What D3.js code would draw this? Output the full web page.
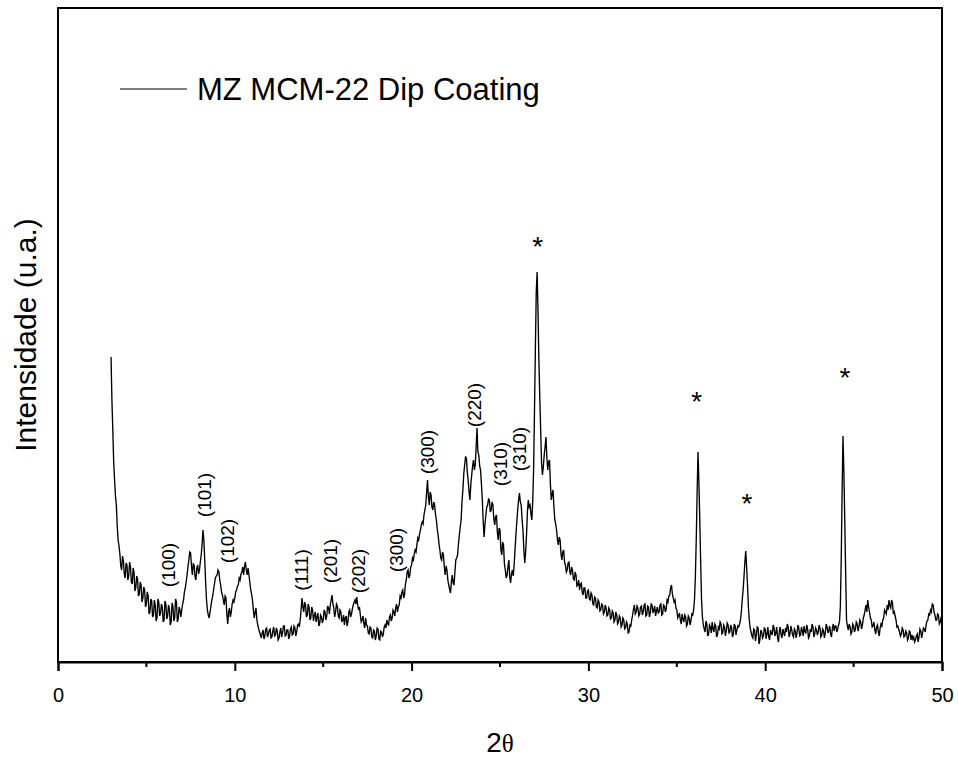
<!DOCTYPE html>
<html>
<head>
<meta charset="utf-8">
<script src="https://cdn.jsdelivr.net/npm/d3@7"></script>
<style>
  html, body { margin: 0; padding: 0; background: #fff; }
  svg { display: block; }
  text { font-family: "Liberation Sans", Arial, sans-serif; fill: #000; }
</style>
</head>
<body>
<div id="chart"></div>
<script>
// ---- Data (XRD pattern, 2θ from 3.00° to 50.00° in 0.05° steps; intensity in arbitrary units) ----
const thetaStart = 3.0;
const thetaStep = 0.05;
const intensity = [
  305, 262, 232, 200, 182, 166, 157, 136, 122, 116, 108, 96, 92, 106, 101, 88, 84, 99, 97, 82,            // 3
  86, 100, 95, 80, 78, 94, 90, 71, 74, 86, 83, 66, 68, 80, 77, 60, 64, 75, 72, 55,                         // 4
  58, 70, 66, 48, 50, 63, 61, 45, 47, 62, 57, 41, 44, 63, 60, 46, 49, 58, 55, 40,                          // 5
  42, 61, 58, 43, 46, 57, 53, 37, 40, 59, 56, 41, 44, 63, 60, 40, 43, 55, 52, 45,                          // 6
  52, 58, 62, 70, 74, 80, 87, 95, 102, 110, 109, 96, 87, 98, 97, 85, 82, 94, 97, 88,                       // 7
  92, 100, 107, 118, 132, 122, 102, 80, 62, 52, 47, 44, 50, 56, 62, 66, 72, 78, 84, 86,                    // 8
  87, 92, 90, 82, 77, 70, 67, 62, 57, 66, 64, 48, 38, 50, 54, 45, 50, 58, 62, 60,                          // 9
  64, 70, 72, 76, 77, 84, 82, 88, 90, 95, 87, 96, 100, 92, 87, 94, 87, 80, 72, 68,                         // 10
  62, 52, 44, 50, 54, 42, 37, 33, 30, 27, 24, 29, 32, 23, 26, 33, 34, 25, 28, 32,                          // 11
  33, 24, 25, 31, 35, 26, 27, 34, 31, 22, 24, 30, 34, 25, 29, 36, 36, 26, 27, 32,                          // 12
  32, 23, 26, 33, 35, 27, 28, 36, 34, 26, 30, 37, 38, 35, 42, 52, 64, 55, 50, 60,                          // 13
  57, 45, 47, 58, 55, 42, 44, 55, 52, 41, 46, 50, 40, 45, 49, 36, 38, 47, 45, 39,                          // 14
  42, 52, 50, 42, 46, 56, 54, 48, 57, 62, 67, 58, 54, 45, 50, 58, 56, 46, 44, 52,                          // 15
  50, 40, 42, 47, 37, 44, 46, 36, 40, 50, 52, 45, 48, 53, 57, 60, 62, 58, 65, 57,                          // 16
  52, 55, 47, 40, 42, 46, 38, 34, 44, 37, 36, 29, 28, 35, 34, 25, 24, 32, 31, 22,                          // 17
  26, 34, 33, 23, 22, 31, 30, 25, 28, 35, 37, 34, 42, 38, 37, 45, 47, 41, 44, 52,                          // 18
  50, 46, 54, 58, 50, 55, 57, 66, 64, 70, 72, 64, 67, 78, 82, 90, 92, 84, 87, 95,                          // 19
  97, 104, 102, 108, 112, 110, 117, 124, 122, 128, 132, 137, 140, 138, 147, 152, 157, 170, 182, 165,       // 20
  157, 170, 167, 155, 152, 160, 157, 148, 142, 133, 127, 118, 112, 104, 102, 110, 107, 95, 87, 96,         // 21
  92, 82, 77, 73, 69, 80, 87, 79, 77, 90, 102, 104, 107, 118, 127, 135, 142, 160, 172, 188,                // 22
  197, 205, 204, 190, 182, 170, 162, 178, 187, 196, 202, 192, 197, 215, 234, 210, 207, 196, 192, 178,      // 23
  162, 140, 125, 138, 147, 155, 157, 163, 162, 150, 152, 160, 157, 143, 137, 145, 147, 130, 122, 134,      // 24
  132, 112, 107, 120, 117, 98, 92, 84, 87, 95, 102, 85, 79, 88, 92, 86, 97, 112, 127, 140,                 // 25
  152, 162, 169, 160, 157, 142, 132, 112, 99, 110, 127, 150, 162, 155, 157, 148, 142, 160, 192, 250,       // 26
  312, 370, 390, 350, 302, 265, 232, 200, 187, 195, 207, 215, 225, 205, 192, 200, 202, 178, 162, 168,      // 27
  172, 155, 142, 138, 132, 122, 117, 125, 122, 108, 102, 110, 112, 100, 97, 90, 92, 99, 100, 90,           // 28
  87, 95, 92, 83, 82, 90, 87, 76, 77, 82, 72, 78, 79, 70, 67, 74, 74, 64, 64, 71,                          // 29
  72, 63, 62, 69, 67, 58, 57, 65, 64, 55, 54, 62, 60, 51, 52, 58, 57, 48, 50, 57,                          // 30
  54, 46, 47, 54, 52, 43, 44, 51, 49, 40, 42, 50, 47, 38, 40, 46, 44, 35, 37, 44,                          // 31
  42, 33, 34, 40, 38, 29, 30, 37, 36, 42, 47, 53, 57, 48, 50, 56, 54, 46, 48, 55,                          // 32
  56, 47, 50, 57, 58, 46, 47, 56, 55, 45, 49, 58, 57, 49, 52, 56, 46, 51, 55, 49,                          // 33
  50, 57, 58, 47, 48, 57, 56, 50, 53, 62, 60, 66, 67, 74, 77, 68, 64, 60, 62, 54,                          // 34
  52, 44, 46, 49, 42, 38, 48, 43, 40, 47, 45, 36, 38, 46, 44, 37, 41, 48, 47, 52,                          // 35
  62, 85, 122, 170, 210, 180, 142, 100, 62, 45, 37, 33, 30, 41, 38, 26, 28, 37, 35, 29,                    // 36
  40, 33, 30, 38, 36, 25, 27, 35, 33, 40, 38, 28, 29, 37, 35, 26, 31, 39, 37, 29,                          // 37
  30, 37, 34, 25, 28, 38, 36, 27, 32, 36, 35, 38, 42, 50, 62, 72, 85, 100, 111, 95,                        // 38
  77, 55, 42, 34, 30, 26, 24, 33, 32, 21, 27, 35, 34, 18, 22, 32, 30, 24, 26, 34,                          // 39
  33, 23, 28, 35, 25, 22, 32, 29, 27, 37, 34, 26, 29, 35, 24, 20, 31, 35, 27, 24,                          // 40
  33, 29, 26, 34, 30, 38, 35, 25, 28, 36, 32, 27, 25, 33, 31, 24, 29, 37, 34, 26,                          // 41
  27, 35, 31, 26, 36, 30, 29, 37, 33, 24, 26, 33, 30, 38, 35, 25, 28, 34, 32, 27,                          // 42
  30, 37, 34, 25, 27, 33, 31, 24, 29, 38, 35, 29, 32, 36, 28, 25, 34, 38, 31, 36,                          // 43
  36, 30, 33, 37, 40, 55, 102, 170, 226, 190, 142, 90, 42, 36, 32, 38, 35, 28, 30, 38,                     // 44
  36, 30, 33, 40, 38, 31, 35, 42, 40, 33, 37, 44, 47, 52, 57, 50, 62, 55, 50, 44,                          // 45
  42, 35, 36, 40, 32, 28, 35, 37, 30, 26, 34, 38, 36, 42, 44, 52, 50, 48, 57, 52,                          // 46
  62, 56, 54, 62, 59, 48, 50, 46, 42, 35, 36, 33, 30, 26, 28, 34, 32, 25, 26, 31,                          // 47
  29, 22, 24, 31, 30, 22, 27, 23, 25, 20, 22, 26, 28, 20, 25, 33, 31, 24, 29, 34,                          // 48
  33, 30, 37, 41, 42, 48, 47, 52, 50, 58, 57, 50, 47, 42, 42, 48, 47, 38, 40, 44,                          // 49
  42                                                                                                       // 50
];

const xTicks = [0, 10, 20, 30, 40, 50];
const xMinorTicks = [5, 15, 25, 35, 45];

const peakLabels = ["(100)", "(101)", "(102)", "(111)", "(201)", "(202)", "(300)", "(300)", "(220)", "(310)", "(310)"];
const peakLabelTheta = [6.3, 8.3, 9.6, 13.8, 15.45, 17.0, 19.2, 20.95, 23.6, 25.05, 26.15];
const peakLabelLevel = [97, 167, 121, 92, 101, 91, 112, 210, 257, 198, 213];

const starTheta = [27.13, 36.12, 38.97, 44.51];
const starLevel = [422, 267, 165, 291];

const legendLabel = "MZ MCM-22 Dip Coating";
const xTitle = ["2", "θ"];
const yTitle = "Intensidade (u.a.)";

// ---- Layout ----
const W = 958, H = 758;
const L = 58, R = 942, T = 8, B = 662;

const svg = d3.select("#chart").append("svg")
  .attr("width", W).attr("height", H);

const x = d3.scaleLinear().domain([0, 50]).range([L, R]);
const y = d3.scaleLinear().domain([0, 654]).range([B, T]);

const data = intensity.map((v, i) => ({ t: thetaStart + i * thetaStep, v }));

// trace
svg.append("path")
  .datum(data)
  .attr("fill", "none")
  .attr("stroke", "#000")
  .attr("stroke-width", 1.35)
  .attr("d", d3.line().x(d => x(d.t)).y(d => y(d.v)));

// frame
svg.append("rect")
  .attr("x", L).attr("y", T).attr("width", R - L).attr("height", B - T)
  .attr("fill", "none").attr("stroke", "#000").attr("stroke-width", 2);

// x axis
const xAxis = svg.append("g").attr("transform", `translate(0,${B})`)
  .call(d3.axisBottom(x).tickValues(xTicks).tickSize(9).tickPadding(17).tickFormat(d3.format("d")));
xAxis.select(".domain").attr("stroke-width", 2);
xAxis.selectAll(".tick line").attr("stroke-width", 2);
xAxis.selectAll(".tick text").style("font-size", "20px").style("font-family", "'Liberation Sans', Arial, sans-serif");

svg.append("g").selectAll("line").data(xMinorTicks).join("line")
  .attr("x1", d => x(d)).attr("x2", d => x(d))
  .attr("y1", B).attr("y2", B + 5)
  .attr("stroke", "#000").attr("stroke-width", 2);

// axis titles
const xt = svg.append("text")
  .attr("x", 500).attr("y", 752)
  .attr("text-anchor", "middle")
  .style("font-size", "28px");
xt.append("tspan").text(xTitle[0]);
xt.append("tspan").text(xTitle[1])
  .style("font-family", "'Liberation Serif', 'DejaVu Serif', serif")
  .style("font-size", "25px");

svg.append("text")
  .attr("transform", `translate(36,${(T + B) / 2}) rotate(-90)`)
  .attr("text-anchor", "middle")
  .style("font-size", "30px")
  .text(yTitle);

// legend
svg.append("line")
  .attr("x1", 120).attr("x2", 187).attr("y1", 89).attr("y2", 89)
  .attr("stroke", "#000").attr("stroke-width", 1.2);
svg.append("text")
  .attr("x", 197).attr("y", 100)
  .style("font-size", "31px")
  .text(legendLabel);

// peak labels (rotated)
svg.append("g").selectAll("text").data(peakLabels).join("text")
  .attr("transform", (d, i) => `translate(${x(peakLabelTheta[i]) - 0.5},${y(peakLabelLevel[i])}) rotate(-90)`)
  .attr("text-anchor", "middle")
  .attr("dominant-baseline", "central")
  .style("font-size", "19px")
  .text(d => d);

// asterisks
svg.append("g").selectAll("text").data(starTheta).join("text")
  .attr("x", d => x(d))
  .attr("y", (d, i) => y(starLevel[i]) + 16)
  .attr("text-anchor", "middle")
  .style("font-size", "28px")
  .text("*");
</script>
</body>
</html>
